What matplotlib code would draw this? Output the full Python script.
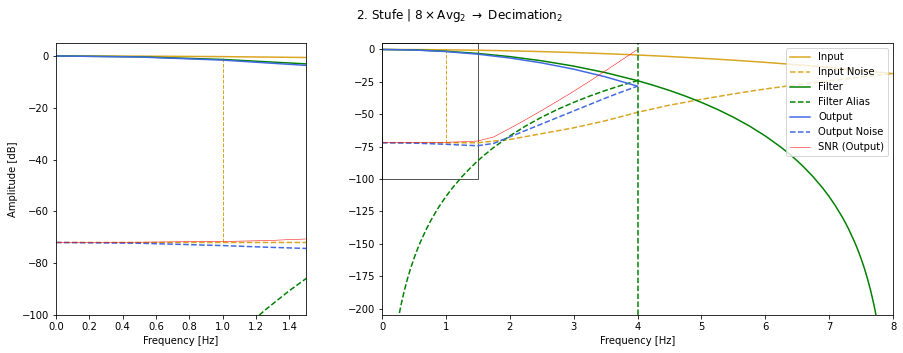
import numpy as np
import matplotlib.pyplot as plt
from matplotlib.patches import Rectangle

# Input spectrum (output of stage 1)
in_f = [0, 0.5, 1, 1.5, 2, 2.5, 3, 3.5, 4, 4.5, 5, 5.5, 6, 6.5, 7, 7.5, 8]
in_db = [0, -0.07, -0.26, -0.59, -1.05, -1.64, -2.37, -3.24, -4.26, -5.43,
         -6.77, -8.27, -9.94, -11.8, -13.87, -16.15, -18.66]
in_noise_db = [-72, -72, -72, -72, -69.5, -65, -60.5, -55, -48.5, -43,
               -38.5, -34.3, -30.5, -27.2, -24.2, -21.3, -18.66]

# 8 x Avg2 filter
filt_f = [0, 0.5, 1, 1.5, 2, 2.5, 3, 3.5, 4, 4.25, 4.5, 4.75, 5, 5.25, 5.5,
          5.75, 6, 6.25, 6.4, 6.5, 6.6, 6.75, 6.9, 7, 7.1, 7.2, 7.25, 7.3,
          7.4, 7.45, 7.5, 7.55, 7.6, 7.65, 7.7, 7.72, 7.75]
filt_db = [0, -0.34, -1.35, -3.06, -5.5, -8.73, -12.82, -17.89, -24.08, -27.67,
           -31.62, -36.0, -40.84, -46.23, -52.26, -59.04, -66.75, -75.6, -81.6,
           -85.95, -90.61, -98.31, -107.03, -113.56, -120.8, -128.91, -133.36,
           -138.12, -148.77, -154.79, -161.39, -168.69, -176.86, -186.12,
           -196.81, -201.61, -209.47]

# aliasing of the filter after decimation by 2
alias_f = [0.25, 0.28, 0.3, 0.35, 0.4, 0.45, 0.5, 0.55, 0.6, 0.7, 0.75, 0.8,
           0.9, 1, 1.1, 1.25, 1.4, 1.5, 1.6, 1.75, 2, 2.25, 2.5, 2.75, 3,
           3.25, 3.5, 3.75, 4]
alias_db = [-209.47, -201.61, -196.81, -186.12, -176.86, -168.69, -161.39,
            -154.79, -148.77, -138.12, -133.36, -128.91, -120.8, -113.56,
            -107.03, -98.31, -90.61, -85.95, -81.6, -75.6, -66.75, -59.04,
            -52.26, -46.23, -40.84, -36.0, -31.62, -27.67, -24.08]

# output after decimation
out_f = [0, 0.5, 1, 1.5, 2, 2.5, 3, 3.5, 4]
out_db = [0, -0.4, -1.61, -3.64, -6.55, -10.37, -15.19, -21.14, -28.35]

out_noise_f = [0, 0.5, 1, 1.25, 1.5, 1.75, 2, 2.25, 2.5, 2.75, 3, 3.25, 3.5, 3.75, 4]
out_noise_db = [-72, -72.3, -73.2, -73.8, -74.3, -72.5, -67.5, -62.5, -57.5,
                -52.5, -47.5, -42.5, -37.5, -32.8, -28.35]
snr_db = [-72, -71.9, -71.6, -71.3, -70.65, -67.5, -60.95, -54.2, -47.1,
          -39.8, -32.3, -24.5, -16.4, -8.2, 0]

f_bw = 1.0       # input bandwidth marker
f_nyq = 4.0      # new nyquist frequency
zoom_xlim = (0, 1.5)
zoom_ylim = (-100, 5)


def draw_curves(ax):
    ax.plot(in_f, in_db, color='goldenrod', label='Input')
    ax.plot(in_f, in_noise_db, color='goldenrod', ls='--', label='Input Noise')
    i = in_f.index(f_bw)
    ax.vlines(f_bw, in_noise_db[i], in_db[i], color='goldenrod', ls='--', lw=1)
    ax.plot(filt_f, filt_db, color='green', label='Filter')
    ax.plot(alias_f, alias_db, color='green', ls='--', label='Filter Alias')
    ax.axvline(f_nyq, color='green', ls='--', lw=1.5)
    ax.plot(out_f, out_db, color='royalblue', label='Output')
    ax.plot(out_noise_f, out_noise_db, color='royalblue', ls='--', label='Output Noise')
    ax.plot(out_noise_f, snr_db, color='red', lw=0.5, label='SNR (Output)')


fig = plt.figure(figsize=(903 / 72, 353 / 72), dpi=72)
ax1 = fig.add_axes([56 / 903, 1 - 315 / 353, 250 / 903, 272 / 353])
ax2 = fig.add_axes([382 / 903, 1 - 315 / 353, 511 / 903, 272 / 353])

draw_curves(ax1)
ax1.set_xlim(*zoom_xlim)
ax1.set_ylim(*zoom_ylim)
ax1.set_xlabel('Frequency [Hz]')
ax1.set_ylabel('Amplitude [dB]')

draw_curves(ax2)
ax2.add_patch(Rectangle((zoom_xlim[0], zoom_ylim[0]), zoom_xlim[1] - zoom_xlim[0],
                        zoom_ylim[1] - zoom_ylim[0], fill=False, ec='0.35', lw=1))
ax2.set_xlim(0, 8)
ax2.set_ylim(-205, 5)
ax2.set_yticks(np.arange(0, -201, -25))
ax2.set_xlabel('Frequency [Hz]')
ax2.legend(loc='upper right')

fig.suptitle(r'2. Stufe | $8 \times \mathrm{Avg}_2$ $\rightarrow$ $\mathrm{Decimation}_2$',
             x=460 / 903, y=0.98, fontsize=12)

fig.savefig('out.png', dpi=72)
